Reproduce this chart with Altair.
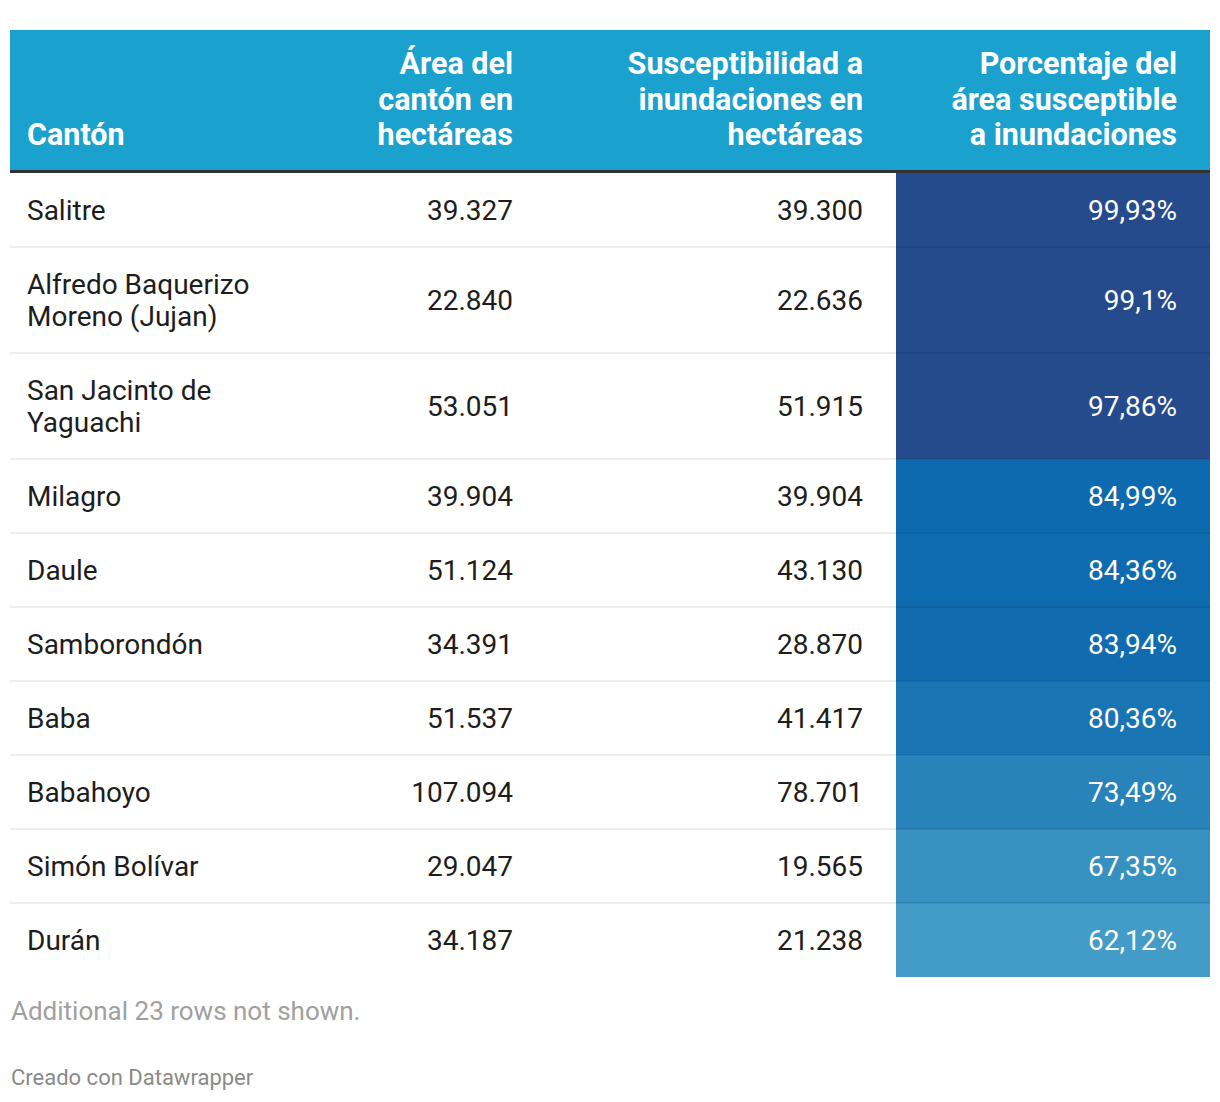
import altair as alt

# ---------------- data ----------------
cantones = [
    ["Salitre"],
    ["Alfredo Baquerizo", "Moreno (Jujan)"],
    ["San Jacinto de", "Yaguachi"],
    ["Milagro"],
    ["Daule"],
    ["Samborondón"],
    ["Baba"],
    ["Babahoyo"],
    ["Simón Bolívar"],
    ["Durán"],
]
area_ha = [39327, 22840, 53051, 39904, 51124, 34391, 51537, 107094, 29047, 34187]
suscept_ha = [39300, 22636, 51915, 39904, 43130, 28870, 41417, 78701, 19565, 21238]
pct = [99.93, 99.1, 97.86, 84.99, 84.36, 83.94, 80.36, 73.49, 67.35, 62.12]
headers = [
    ["Cantón"],
    ["Área del", "cantón en", "hectáreas"],
    ["Susceptibilidad a", "inundaciones en", "hectáreas"],
    ["Porcentaje del", "área susceptible", "a inundaciones"],
]
note = "Additional 23 rows not shown."
credit = "Creado con Datawrapper"

# ---------------- layout (page pixels) ----------------
W, H = 1204, 1082
OFF = 8
LEFT, RIGHT = 10, 1210
HEAD_TOP, HEAD_BOT = 30, 170
RULE_Y = 171.5
ROW_TOP = 173
COL_X = [27, 513, 863, 1177]
CELL_X0 = 896
HEAD_LAST_BASE = 145
HEAD_LH = 35.5
BODY_LH = 32

xs = alt.Scale(domain=[OFF, OFF + W], nice=False, zero=False)
ys = alt.Scale(domain=[OFF, OFF + H], nice=False, zero=False, reverse=True)


def fmt_int(v):
    return f"{v:,}".replace(",", ".")


def fmt_pct(v):
    return (f"{v:g}").replace(".", ",") + "%"


rows = []
y = ROW_TOP
for name, a, s, p in zip(cantones, area_ha, suscept_ha, pct):
    h = 42 + 32 * len(name)
    yc = y + h / 2 + 1.5
    rows.append(dict(name=name, area=fmt_int(a), susc=fmt_int(s), pct=p,
                     pct_s=fmt_pct(p), y0=y, y1=y + h, yc=yc,
                     yn=yc - (len(name) - 1) * BODY_LH / 2,
                     xl=LEFT, xr=RIGHT, xc0=CELL_X0,
                     x_name=COL_X[0], x_area=COL_X[1], x_susc=COL_X[2], x_pct=COL_X[3]))
    y += h

head_rows = []
for i, hd in enumerate(headers):
    head_rows.append(dict(text=hd, x=COL_X[i], y=HEAD_LAST_BASE - (len(hd) - 1) * HEAD_LH,
                      side="left" if i == 0 else "right"))

rows_data = alt.Data(values=rows)
head_data = alt.Data(values=head_rows)
frame_data = alt.Data(values=[dict(x0=LEFT, x1=RIGHT, y0=HEAD_TOP, y1=HEAD_BOT, yr=RULE_Y)])
foot_data = alt.Data(values=[dict(t=note, x=11, y=1020, k="note"),
                             dict(t=credit, x=11, y=1085, k="credit")])

X = lambda f: alt.X(f, scale=xs, axis=None)
Y = lambda f: alt.Y(f, scale=ys, axis=None)

header_bg = alt.Chart(frame_data).mark_rect(color="#1ba1cd").encode(
    x=X("x0:Q"), x2="x1:Q", y=Y("y0:Q"), y2="y1:Q")

header_rule = alt.Chart(frame_data).mark_rule(color="#333333", strokeWidth=3).encode(
    x=X("x0:Q"), x2="x1:Q", y=Y("yr:Q"))

color_cells = alt.Chart(rows_data).mark_rect().encode(
    x=X("xc0:Q"), x2="xr:Q", y=Y("y0:Q"), y2="y1:Q",
    color=alt.Color("pct:Q", legend=None,
                    scale=alt.Scale(domain=[62.12, 84.99, 97.86],
                                    range=["#429cc7", "#0e6aae", "#254b8c"],
                                    interpolate="rgb", clamp=True)))

sep = alt.Chart(rows_data).transform_filter("datum.y1 < 970").mark_rule(
    color="#000000", opacity=0.07, strokeWidth=2).encode(
    x=X("xl:Q"), x2="xr:Q", y=Y("y1:Q"))

body_font = dict(font="Roboto", fontSize=28, lineHeight=BODY_LH, baseline="middle")

name_txt = alt.Chart(rows_data).mark_text(align="left", color="#1d1d1d", **body_font).encode(
    x=X("x_name:Q"), y=Y("yn:Q"), text="name:N")
area_txt = alt.Chart(rows_data).mark_text(align="right", color="#1d1d1d", **body_font).encode(
    x=X("x_area:Q"), y=Y("yc:Q"), text="area:N")
susc_txt = alt.Chart(rows_data).mark_text(align="right", color="#1d1d1d", **body_font).encode(
    x=X("x_susc:Q"), y=Y("yc:Q"), text="susc:N")
pct_txt = alt.Chart(rows_data).mark_text(align="right", color="#ffffff", **body_font).encode(
    x=X("x_pct:Q"), y=Y("yc:Q"), text="pct_s:N")

head_font = dict(font="Roboto", fontSize=30.5, fontWeight="bold",
                 lineHeight=HEAD_LH, baseline="alphabetic", color="#ffffff")
head_left = alt.Chart(head_data).transform_filter("datum.side == 'left'").mark_text(
    align="left", **head_font).encode(x=X("x:Q"), y=Y("y:Q"), text="text:N")
head_right = alt.Chart(head_data).transform_filter("datum.side == 'right'").mark_text(
    align="right", **head_font).encode(x=X("x:Q"), y=Y("y:Q"), text="text:N")

note_txt = alt.Chart(foot_data).transform_filter("datum.k == 'note'").mark_text(
    align="left", baseline="alphabetic", font="Roboto", fontSize=26, color="#a0a0a0").encode(
    x=X("x:Q"), y=Y("y:Q"), text="t:N")
credit_txt = alt.Chart(foot_data).transform_filter("datum.k == 'credit'").mark_text(
    align="left", baseline="alphabetic", font="Roboto", fontSize=22, color="#8a8a8a").encode(
    x=X("x:Q"), y=Y("y:Q"), text="t:N")

chart = alt.layer(
    header_bg, color_cells, sep, header_rule,
    name_txt, area_txt, susc_txt, pct_txt,
    head_left, head_right, note_txt, credit_txt,
).properties(
    width=W, height=H, padding=0, autosize=alt.AutoSizeParams(type="none"),
    background="#ffffff",
).configure_view(stroke=None)

chart.save("out.html", embed_options={"renderer": "svg", "actions": False})
